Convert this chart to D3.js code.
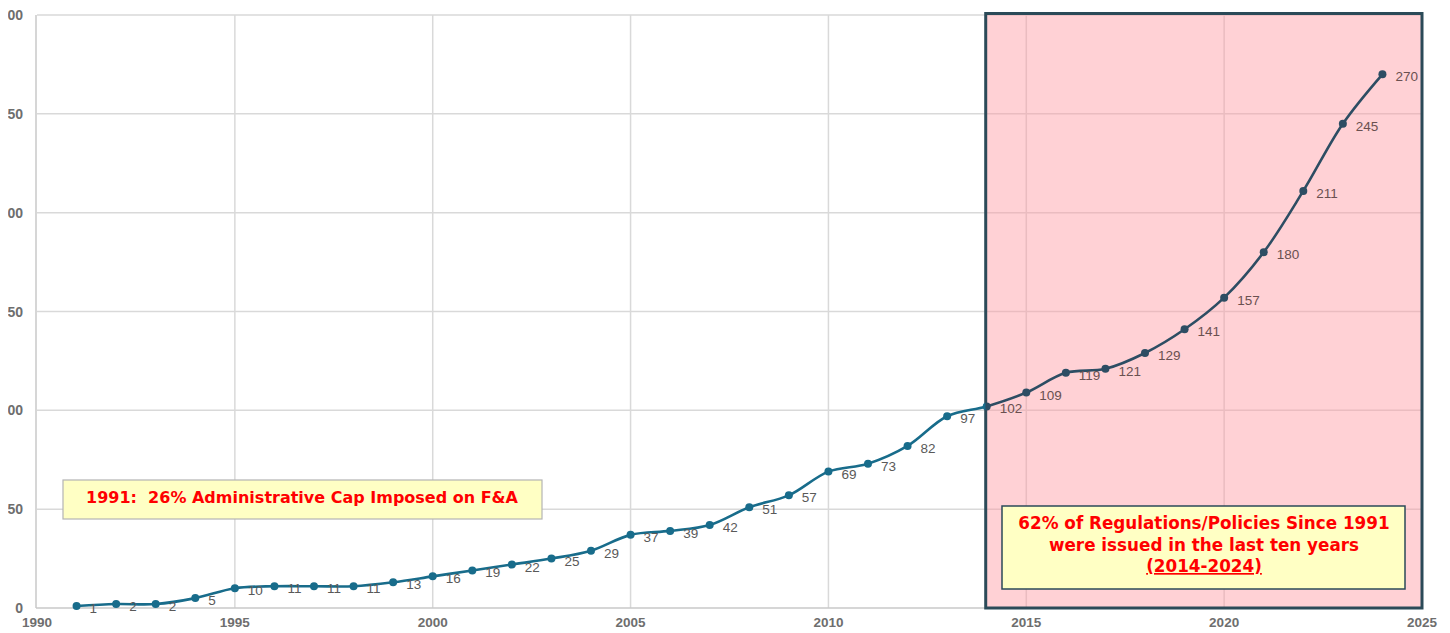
<!DOCTYPE html>
<html>
<head>
<meta charset="utf-8">
<script src="https://cdn.jsdelivr.net/npm/d3@7"></script>
<style>
  body { margin: 0; background: #fff; }
  svg { display: block; font-family: "Liberation Sans", Arial, sans-serif; }
</style>
</head>
<body>
<div id="chart"></div>
<script>
// cumulative count of regulations / policies by year
var years = [1991, 1992, 1993, 1994, 1995, 1996, 1997, 1998, 1999, 2000,
  2001, 2002, 2003, 2004, 2005, 2006, 2007, 2008, 2009, 2010,
  2011, 2012, 2013, 2014, 2015, 2016, 2017, 2018, 2019, 2020,
  2021, 2022, 2023, 2024];
var counts = [1, 2, 2, 5, 10, 11, 11, 11, 13, 16,
  19, 22, 25, 29, 37, 39, 42, 51, 57, 69,
  73, 82, 97, 102, 109, 119, 121, 129, 141, 157,
  180, 211, 245, 270];
var xTicks = [1990, 1995, 2000, 2005, 2010, 2015, 2020, 2025];
var yTicks = [0, 50, 100, 150, 200, 250, 300];
var highlightYears = [2014, 2025];
var note1 = "1991:  26% Administrative Cap Imposed on F&A";
var note2 = ["62% of Regulations/Policies Since 1991", "were issued in the last ten years", "(2014-2024)"];

var W = 1450, H = 633;
var svg = d3.select("#chart").append("svg")
  .attr("width", W)
  .attr("height", H);

var x = d3.scaleLinear().domain([1990, 2025]).range([37, 1422]);
var y = d3.scaleLinear().domain([0, 300]).range([608, 15]);

var data = years.map(function (d, i) { return { year: d, value: counts[i] }; });

var defs = svg.append("defs");
defs.append("clipPath").attr("id", "ylab")
  .append("rect").attr("x", 8).attr("y", 0).attr("width", 40).attr("height", H);
var split = x(highlightYears[0]) - 1;
defs.append("clipPath").attr("id", "leftPart")
  .append("rect").attr("x", 0).attr("y", 0).attr("width", split).attr("height", H);
defs.append("clipPath").attr("id", "rightPart")
  .append("rect").attr("x", split).attr("y", 0).attr("width", W - split).attr("height", H);

// gridlines
svg.append("g")
  .selectAll("line.h")
  .data(yTicks.slice(1))
  .enter()
  .append("line")
  .attr("x1", x(1990)).attr("x2", x(2025))
  .attr("y1", function (d) { return y(d); })
  .attr("y2", function (d) { return y(d); })
  .attr("stroke", "#d9d9d9")
  .attr("stroke-width", 1.5);
svg.append("g")
  .selectAll("line.v")
  .data(xTicks.slice(1))
  .enter()
  .append("line")
  .attr("x1", function (d) { return x(d); })
  .attr("x2", function (d) { return x(d); })
  .attr("y1", y(300)).attr("y2", y(0))
  .attr("stroke", "#d9d9d9")
  .attr("stroke-width", 1.5);

// axis lines
svg.append("line")
  .attr("x1", x(1990) - 1).attr("x2", x(1990) - 1)
  .attr("y1", y(300)).attr("y2", y(0))
  .attr("stroke", "#c8c8c8").attr("stroke-width", 1.5);
svg.append("line")
  .attr("x1", x(1990) - 1).attr("x2", x(2025))
  .attr("y1", y(0)).attr("y2", y(0))
  .attr("stroke", "#c8c8c8").attr("stroke-width", 1.5);

// y tick labels (left side of the picture is cut off)
svg.append("g")
  .attr("clip-path", "url(#ylab)")
  .selectAll("text")
  .data(yTicks)
  .enter()
  .append("text")
  .attr("x", 23)
  .attr("y", function (d) { return y(d) + 5; })
  .attr("text-anchor", "end")
  .style("font-size", "14px")
  .style("font-weight", "bold")
  .attr("fill", "#6e6e6e")
  .text(function (d) { return d; });

// x tick labels
svg.append("g")
  .selectAll("text")
  .data(xTicks)
  .enter()
  .append("text")
  .attr("x", function (d) { return x(d); })
  .attr("y", 627)
  .attr("text-anchor", "middle")
  .style("font-size", "13.5px")
  .style("font-weight", "bold")
  .attr("fill", "#6e6e6e")
  .text(function (d) { return d; });

// highlighted period
svg.append("rect")
  .attr("x", x(highlightYears[0]) - 1)
  .attr("y", y(300) - 1.5)
  .attr("width", x(highlightYears[1]) - x(highlightYears[0]) + 1)
  .attr("height", y(0) - y(300) + 1.5)
  .attr("fill", "#ff98a2")
  .attr("fill-opacity", 0.45)
  .attr("stroke", "#2b4a58")
  .attr("stroke-width", 3);

var line = d3.line()
  .x(function (d) { return x(d.year); })
  .y(function (d) { return y(d.value); })
  .curve(d3.curveCatmullRom.alpha(0.5));

function drawSeries(clip, color) {
  var g = svg.append("g").attr("clip-path", "url(#" + clip + ")");
  g.append("path")
    .datum(data)
    .attr("fill", "none")
    .attr("stroke", color)
    .attr("stroke-width", 2.6)
    .attr("d", line);
  g.selectAll("circle")
    .data(data)
    .enter()
    .append("circle")
    .attr("cx", function (d) { return x(d.year); })
    .attr("cy", function (d) { return y(d.value); })
    .attr("r", 4)
    .attr("fill", color);
}
drawSeries("leftPart", "#186c8b");
drawSeries("rightPart", "#2d4d63");

// data labels
svg.append("g")
  .selectAll("text")
  .data(data)
  .enter()
  .append("text")
  .attr("x", function (d) { return x(d.year) + 13; })
  .attr("y", function (d) { return y(d.value) + 7; })
  .style("font-size", "13.5px")
  .attr("fill", function (d) { return d.year >= highlightYears[0] ? "#6a5050" : "#595959"; })
  .text(function (d) { return d.value; });

// note 1
svg.append("rect")
  .attr("x", 63).attr("y", 480)
  .attr("width", 479).attr("height", 39)
  .attr("fill", "#ffffc4")
  .attr("stroke", "#b4b4b4")
  .attr("stroke-width", 1.2);
svg.append("text")
  .attr("x", 302).attr("y", 503)
  .attr("text-anchor", "middle")
  .style("font-family", "'DejaVu Sans', sans-serif")
  .style("font-size", "16px")
  .style("font-weight", "bold")
  .attr("fill", "#ff0000")
  .attr("xml:space", "preserve")
  .text(note1);

// note 2
svg.append("rect")
  .attr("x", 1002).attr("y", 506)
  .attr("width", 403).attr("height", 83)
  .attr("fill", "#ffffc4")
  .attr("stroke", "#2b4a58")
  .attr("stroke-width", 1.5);
svg.append("g")
  .selectAll("text")
  .data(note2)
  .enter()
  .append("text")
  .attr("x", 1204)
  .attr("y", function (d, i) { return 529 + i * 21.5; })
  .attr("text-anchor", "middle")
  .style("font-family", "'DejaVu Sans', sans-serif")
  .style("font-size", "16.8px")
  .style("font-weight", "bold")
  .style("text-decoration", function (d, i) { return i === 2 ? "underline" : null; })
  .attr("fill", "#ff0000")
  .text(function (d) { return d; });
</script>
</body>
</html>
